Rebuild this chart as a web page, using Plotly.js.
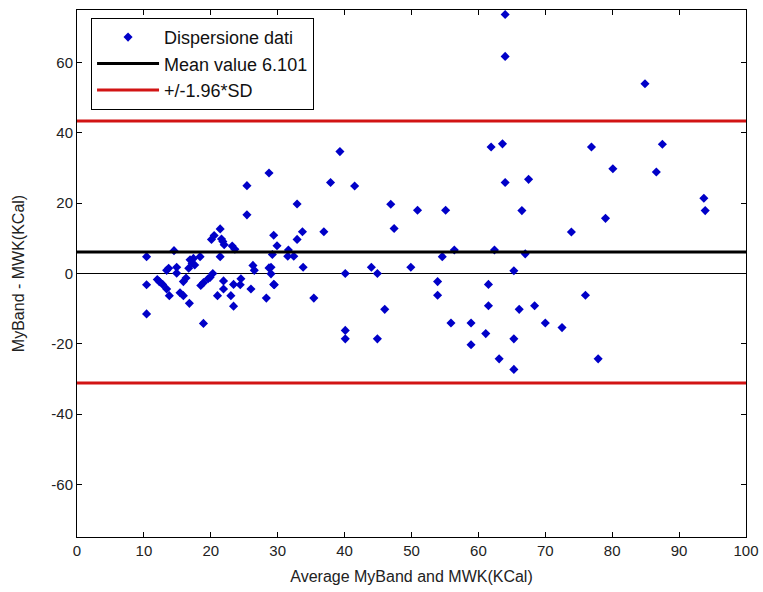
<!DOCTYPE html>
<html>
<head>
<meta charset="utf-8">
<script src="https://cdn.plot.ly/plotly-3.0.1.min.js"></script>
<style>
  html, body { margin: 0; padding: 0; background: #ffffff; }
  #chart { width: 763px; height: 592px; }
</style>
</head>
<body>
<div id="chart"></div>
<script>
// Average of the two methods (x) and their difference (y)
const avgValues = [
  10.4, 10.4, 10.4, 12.0, 12.3, 12.8, 13.4, 13.8, 13.7, 13.4,
  14.5, 14.9, 14.9, 15.4, 15.9, 15.9, 16.3, 16.7, 16.8, 16.9,
  17.4, 17.6, 18.4, 18.5, 18.9, 18.9, 19.6, 19.9, 20.3, 20.1,
  20.5, 21.0, 21.4, 21.4, 21.8, 21.9, 21.9, 22.0, 23.0, 23.2,
  23.4, 23.4, 23.6, 24.4, 24.5, 25.4, 25.4, 26.0, 26.3, 26.5,
  28.3, 28.7, 28.7, 29.0, 29.0, 29.2, 29.4, 29.4, 29.9, 31.6,
  31.5, 32.4, 32.9, 32.9, 33.7, 33.8, 35.4, 36.9, 37.9, 39.3,
  40.1, 40.1, 40.1, 41.5, 44.0, 44.9, 44.9, 46.0, 46.9, 47.4,
  49.9, 50.9, 53.9, 53.9, 54.6, 55.1, 55.9, 56.4, 58.9, 58.9,
  61.1, 61.5, 61.5, 61.9, 62.4, 63.1, 63.6, 64.0, 64.0, 64.0,
  65.3, 65.3, 65.3, 66.1, 66.5, 67.0, 67.5, 68.4, 70.0, 72.5,
  73.9, 76.0, 76.9, 77.9, 79.0, 80.1, 84.9, 86.6, 87.5, 93.7,
  93.9, 17.2, 21.6, 29.5
];
const diffValues = [
  4.8, -3.2, -11.5, -1.7, -2.3, -3.1, -4.4, -6.3, 1.5, 0.9,
  6.5, 1.8, 0.1, -5.5, -6.3, -2.3, -1.3, 1.5, -8.5, 3.9,
  4.3, 2.4, 4.8, -3.4, -2.6, -14.2, -1.5, -1.1, 0.0, 9.7,
  10.8, -6.3, 12.7, 4.8, 9.1, -2.1, -4.4, 8.2, -6.3, 7.8,
  -3.1, -9.3, 6.9, -3.2, -1.5, 25.0, 16.7, -4.4, 2.3, 0.9,
  -7.0, 28.6, 1.6, 1.8, -0.1, 5.4, 10.9, -3.1, 7.9, 6.7,
  4.9, 4.9, 19.8, 9.7, 11.9, 1.8, -7.0, 11.9, 25.9, 34.7,
  0.0, -16.2, -18.6, 24.9, 1.8, 0.0, -18.6, -10.2, 19.7, 12.8,
  1.8, 18.0, -2.3, -6.2, 4.8, 18.0, -14.1, 6.7, -14.1, -20.3,
  -17.1, -3.1, -9.2, 36.0, 6.7, -24.3, 36.9, 25.9, 73.7, 61.8,
  0.8, -18.6, -27.3, -10.2, 17.9, 5.6, 26.8, -9.2, -14.1, -15.4,
  11.8, -6.2, 36.0, -24.3, 15.7, 29.8, 54.0, 28.9, 36.8, 21.4,
  17.9, 2.9, 9.8, -3.2
];

// Summary lines
const meanValue = 6.101;
const upperLimit = 43.4;
const lowerLimit = -31.2;
const lineSpan = [0, 100];

// Tick labels
const xTicks = [0, 10, 20, 30, 40, 50, 60, 70, 80, 90, 100];
const yTicks = [-60, -40, -20, 0, 20, 40, 60];

const traces = [
  {
    type: 'scatter', mode: 'markers', name: 'Dispersione dati',
    x: avgValues, y: diffValues,
    marker: { symbol: 'diamond', size: 7, color: '#0000c8' }
  },
  {
    type: 'scatter', mode: 'lines', name: 'Mean value 6.101',
    x: lineSpan, y: [meanValue, meanValue],
    line: { color: '#000000', width: 3 }
  },
  {
    type: 'scatter', mode: 'lines', name: '+/-1.96*SD',
    x: lineSpan, y: [upperLimit, upperLimit],
    line: { color: '#d21414', width: 3 }, legendgroup: 'sd'
  },
  {
    type: 'scatter', mode: 'lines', name: '+/-1.96*SD', showlegend: false,
    x: lineSpan, y: [lowerLimit, lowerLimit],
    line: { color: '#d21414', width: 3 }, legendgroup: 'sd'
  }
];

const axisCommon = {
  showgrid: false,
  showline: true, linecolor: '#000000', linewidth: 1,
  mirror: 'ticks',
  ticks: 'inside', ticklen: 5, tickcolor: '#000000',
  tickfont: { family: 'Liberation Sans, Arial, sans-serif', size: 15, color: '#222222' }
};

const layout = {
  width: 763, height: 592,
  margin: { l: 77, r: 17, t: 10, b: 55 },
  paper_bgcolor: '#ffffff', plot_bgcolor: '#ffffff',
  showlegend: true,
  legend: {
    x: 0.021, y: 0.985, xanchor: 'left', yanchor: 'top',
    bgcolor: '#ffffff', bordercolor: '#000000', borderwidth: 1,
    font: { family: 'Liberation Sans, Arial, sans-serif', size: 18, color: '#111111' },
    itemwidth: 62,
    tracegroupgap: 0
  },
  xaxis: Object.assign({}, axisCommon, {
    range: [0, 100], tickvals: xTicks, ticktext: xTicks.map(String),
    zeroline: false,
    title: { text: 'Average MyBand and MWK(KCal)', standoff: 12,
      font: { family: 'Liberation Sans, Arial, sans-serif', size: 16, color: '#222222' } }
  }),
  yaxis: Object.assign({}, axisCommon, {
    range: [-75, 75], tickvals: yTicks, ticktext: yTicks.map(String),
    zeroline: true, zerolinecolor: '#000000', zerolinewidth: 1,
    title: { text: 'MyBand - MWK(KCal)', standoff: 22,
      font: { family: 'Liberation Sans, Arial, sans-serif', size: 16, color: '#222222' } }
  })
};

Plotly.newPlot('chart', traces, layout, { staticPlot: true, displayModeBar: false });
</script>
</body>
</html>
